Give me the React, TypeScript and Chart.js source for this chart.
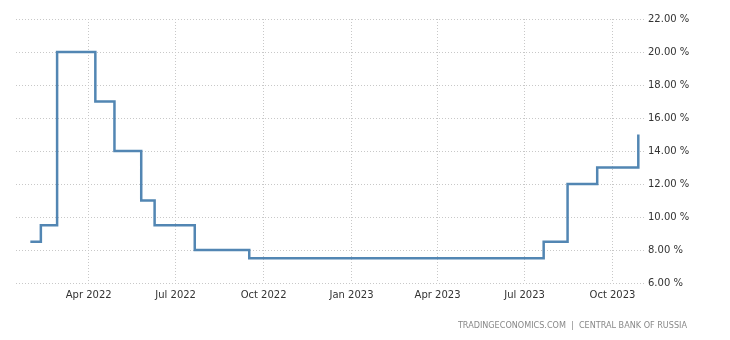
import React, { useEffect, useRef } from "react";
import { Chart, registerables } from "chart.js";

Chart.register(...registerables);

// Days counted from 1 Jan 2022
const rateDays = [29, 40, 57, 97, 117, 145, 159, 201, 258, 566, 591, 622, 665];
const rateValues = [8.5, 9.5, 20, 17, 14, 11, 9.5, 8, 7.5, 8.5, 12, 13, 15];

const tickDays = [90, 181, 273, 365, 455, 546, 638];
const tickLabels = ["Apr 2022", "Jul 2022", "Oct 2022", "Jan 2023", "Apr 2023", "Jul 2023", "Oct 2023"];

const yTicks = [6, 8, 10, 12, 14, 16, 18, 20, 22];

const footerText = "TRADINGECONOMICS.COM  |  CENTRAL BANK OF RUSSIA";

export default function App() {
  const ref = useRef<HTMLCanvasElement | null>(null);

  useEffect(() => {
    if (!ref.current) return;
    const font = { family: "'DejaVu Sans', sans-serif", size: 10 };
    const chart = new Chart(ref.current, {
      type: "line",
      data: {
        datasets: [
          {
            data: rateDays.map((d, i) => ({ x: d, y: rateValues[i] })),
            borderColor: "#5286b3",
            borderWidth: 2.5,
            pointRadius: 0,
            stepped: true,
            fill: false,
          },
        ],
      },
      options: {
        animation: false,
        responsive: false,
        maintainAspectRatio: false,
        layout: { padding: { left: 16, top: 19, right: 0, bottom: 0 } },
        plugins: { legend: { display: false }, tooltip: { enabled: false } },
        scales: {
          x: {
            type: "linear",
            min: 14,
            max: 672,
            afterBuildTicks: (axis: any) => {
              axis.ticks = tickDays.map((v) => ({ value: v }));
            },
            afterFit: (axis: any) => {
              axis.height = 57;
            },
            grid: { color: "#c8c8c8", drawTicks: false, lineWidth: 1 },
            border: { display: false, dash: [1, 2] },
            ticks: {
              color: "#333",
              font,
              padding: 6,
              maxRotation: 0,
              autoSkip: false,
              callback: (v: any) => {
                const i = tickDays.indexOf(Number(v));
                return i >= 0 ? tickLabels[i] : "";
              },
            },
          },
          y: {
            position: "right",
            min: 6,
            max: 22,
            afterBuildTicks: (axis: any) => {
              axis.ticks = yTicks.map((v) => ({ value: v }));
            },
            afterFit: (axis: any) => {
              axis.width = 85;
            },
            grid: { color: "#c8c8c8", drawTicks: false, lineWidth: 1 },
            border: { display: false, dash: [1, 2] },
            ticks: {
              color: "#333",
              font,
              padding: 3,
              callback: (v: any) => Number(v).toFixed(2) + " %",
            },
          },
        },
      },
    });
    return () => chart.destroy();
  }, []);

  return (
    <div style={{ position: "fixed", left: 0, top: 0, width: 730, height: 340, background: "#fff" }}>
      <canvas ref={ref} width={730} height={340} style={{ width: 730, height: 340, display: "block" }} />
      <div
        style={{
          position: "absolute",
          right: 43,
          top: 319,
          fontFamily: "'DejaVu Sans Condensed', 'DejaVu Sans', sans-serif",
          fontStretch: "condensed",
          fontSize: 9,
          lineHeight: "12px",
          color: "#888",
          whiteSpace: "pre",
        }}
      >
        {footerText}
      </div>
    </div>
  );
}
